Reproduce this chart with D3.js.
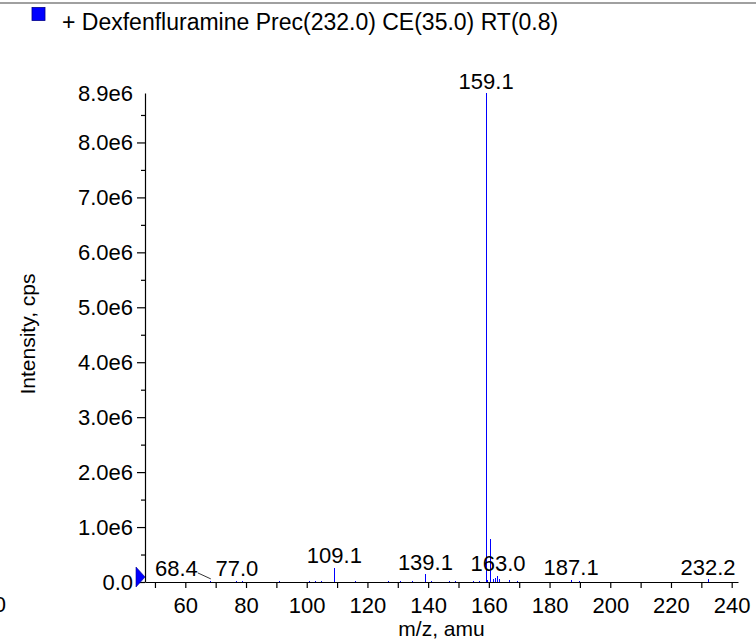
<!DOCTYPE html>
<html>
<head>
<meta charset="utf-8">
<script src="https://cdn.jsdelivr.net/npm/d3@7"></script>
<style>
  html, body { margin: 0; padding: 0; background: #fff; }
  svg { display: block; }
  text { font-family: "Liberation Sans", Arial, Helvetica, sans-serif; fill: #000; }
</style>
</head>
<body>
<svg id="chart" width="756" height="640"></svg>
<script>
// ---- data ----
const title = "+ Dexfenfluramine Prec(232.0) CE(35.0) RT(0.8)";
const xLabel = "m/z, amu";
const yLabel = "Intensity, cps";
// peak m/z values and intensities (cps)
const peakMz = [68.4, 77.0, 79.0, 91.0, 101.0, 103.0, 105.0, 109.1, 116.0, 127.0, 131.0, 135.0, 139.1, 141.0, 147.2, 149.0, 155.0, 157.0,
                159.1, 159.7, 160.4, 161.6, 162.1, 163.0, 163.4, 166.8, 169.5, 187.1, 190.0, 232.2];
const peakInt = [0.02e6, 0.02e6, 0.01e6, 0.01e6, 0.01e6, 0.01e6, 0.01e6, 0.26e6, 0.01e6, 0.01e6, 0.01e6, 0.01e6, 0.14e6, 0.01e6, 0.02e6, 0.01e6, 0.01e6, 0.01e6,
                 8.9e6, 0.04e6, 0.78e6, 0.06e6, 0.08e6, 0.11e6, 0.05e6, 0.03e6, 0.02e6, 0.04e6, 0.01e6, 0.05e6];
const labelledMz = [68.4, 77.0, 109.1, 139.1, 159.1, 163.0, 187.1, 232.2];
const yMajorTicks = [0, 1e6, 2e6, 3e6, 4e6, 5e6, 6e6, 7e6, 8e6];
const yMinorTicks = [0.5e6, 1.5e6, 2.5e6, 3.5e6, 4.5e6, 5.5e6, 6.5e6, 7.5e6, 8.5e6];
const yMax = 8.9e6;
const xTicks = [50, 60, 70, 80, 90, 100, 110, 120, 130, 140, 150, 160, 170, 180, 190, 200, 210, 220, 230, 240];
const xDomain = [46.72, 242.08];

(function () {
// ---- layout ----
const FS = 22;
const svg = d3.select("#chart");
const pL = 145, pR = 738, pT = 93, pB = 582;

const x = d3.scaleLinear().domain(xDomain).range([pL, pR]);
const y = d3.scaleLinear().domain([0, yMax]).range([pB, pT]);

// top frame line
svg.append("line").attr("x1", 0).attr("x2", 756).attr("y1", 3).attr("y2", 3)
  .attr("stroke", "#808080").attr("stroke-width", 1.5);

// legend
svg.append("rect").attr("x", 32).attr("y", 7.5).attr("width", 13).attr("height", 13)
  .attr("fill", "#0000ff").attr("stroke", "#00008b").attr("stroke-width", 0.8);
svg.append("text").attr("x", 62).attr("y", 30).attr("font-size", 23).text(title);

// peaks
const peaks = peakMz.map((m, i) => ({ mz: m, v: peakInt[i] }));
svg.append("g").attr("shape-rendering", "crispEdges").selectAll("line").data(peaks).join("line")
  .attr("x1", d => x(d.mz)).attr("x2", d => x(d.mz))
  .attr("y1", y(0)).attr("y2", d => y(d.v))
  .attr("stroke", "#0000ff").attr("stroke-width", 1);

// y axis
const fmt = d => d === 0 ? "0.0" : (d / 1e6).toFixed(1) + "e6";
const gy = svg.append("g").attr("transform", `translate(${pL},0)`);
gy.call(d3.axisLeft(y).tickValues(yMajorTicks).tickSize(8).tickPadding(4).tickFormat(fmt).tickSizeOuter(0));
const gyMinor = svg.append("g").attr("transform", `translate(${pL},0)`);
gyMinor.call(d3.axisLeft(y).tickValues(yMinorTicks).tickSize(4).tickFormat(""));
gyMinor.select(".domain").remove();
const gyTop = svg.append("g").attr("transform", `translate(${pL},0)`);
gyTop.call(d3.axisLeft(y).tickValues([yMax]).tickSize(0).tickPadding(12).tickFormat(fmt));
gyTop.select(".domain").remove();

// x axis
const gx = svg.append("g").attr("transform", `translate(0,${pB})`);
gx.call(d3.axisBottom(x).tickValues(xTicks).tickSize(6).tickPadding(9).tickSizeOuter(0)
  .tickFormat(d => d % 20 === 0 ? d : ""));
// clipped label at far left edge (as in the reference)
svg.append("text").attr("x", 6).attr("y", 612).attr("text-anchor", "end").attr("font-size", FS).text("40");

svg.selectAll(".tick text").attr("font-size", FS).attr("font-family", '"Liberation Sans", Arial, sans-serif').attr("fill", "#000");
svg.selectAll(".domain, .tick line").attr("stroke", "#000").attr("stroke-width", 1.2);

// precursor marker at baseline
svg.append("path")
  .attr("d", d3.line()([[pL - 9, y(0) - 15], [pL - 9, y(0) + 5], [pL, y(0) - 5]]) + "Z")
  .attr("fill", "#0000ff").attr("stroke", "#00008b").attr("stroke-width", 0.6);

// peak labels
const labels = labelledMz.map(m => {
  const p = peaks.find(q => q.mz === m);
  return { mz: m, v: p.v, text: m.toFixed(1), cx: x(m) };
});
const lg = svg.append("g");
const lt = lg.selectAll("text").data(labels).join("text")
  .attr("font-size", FS).attr("text-anchor", "middle")
  .attr("x", d => d.cx).attr("y", d => y(d.v) - 4.5).text(d => d.text);
lt.each(function (d) { d.w = this.getComputedTextLength(); });
for (let i = labels.length - 2; i >= 0; i--) {
  const a = labels[i], b = labels[i + 1];
  const aRight = a.cx + a.w / 2, bLeft = b.cx - b.w / 2;
  if (aRight > bLeft && Math.abs(y(a.v) - y(b.v)) < FS) {
    a.cx = x(a.mz) - 13 - a.w / 2;
    a.leader = true;
  }
}
lt.attr("x", d => d.cx);
lg.selectAll("line").data(labels.filter(d => d.leader)).join("line")
  .attr("x1", d => d.cx + d.w / 2).attr("y1", d => y(d.v) - 8)
  .attr("x2", d => x(d.mz)).attr("y2", d => y(d.v) - 2)
  .attr("stroke", "#000").attr("stroke-width", 0.8);

// axis titles
svg.append("text").attr("x", (pL + pR) / 2).attr("y", 635.5).attr("text-anchor", "middle")
  .attr("font-size", 21).text(xLabel);
svg.append("text").attr("transform", "translate(35,334) rotate(-90)").attr("text-anchor", "middle")
  .attr("font-size", 21).text(yLabel);
})();
</script>
</body>
</html>
